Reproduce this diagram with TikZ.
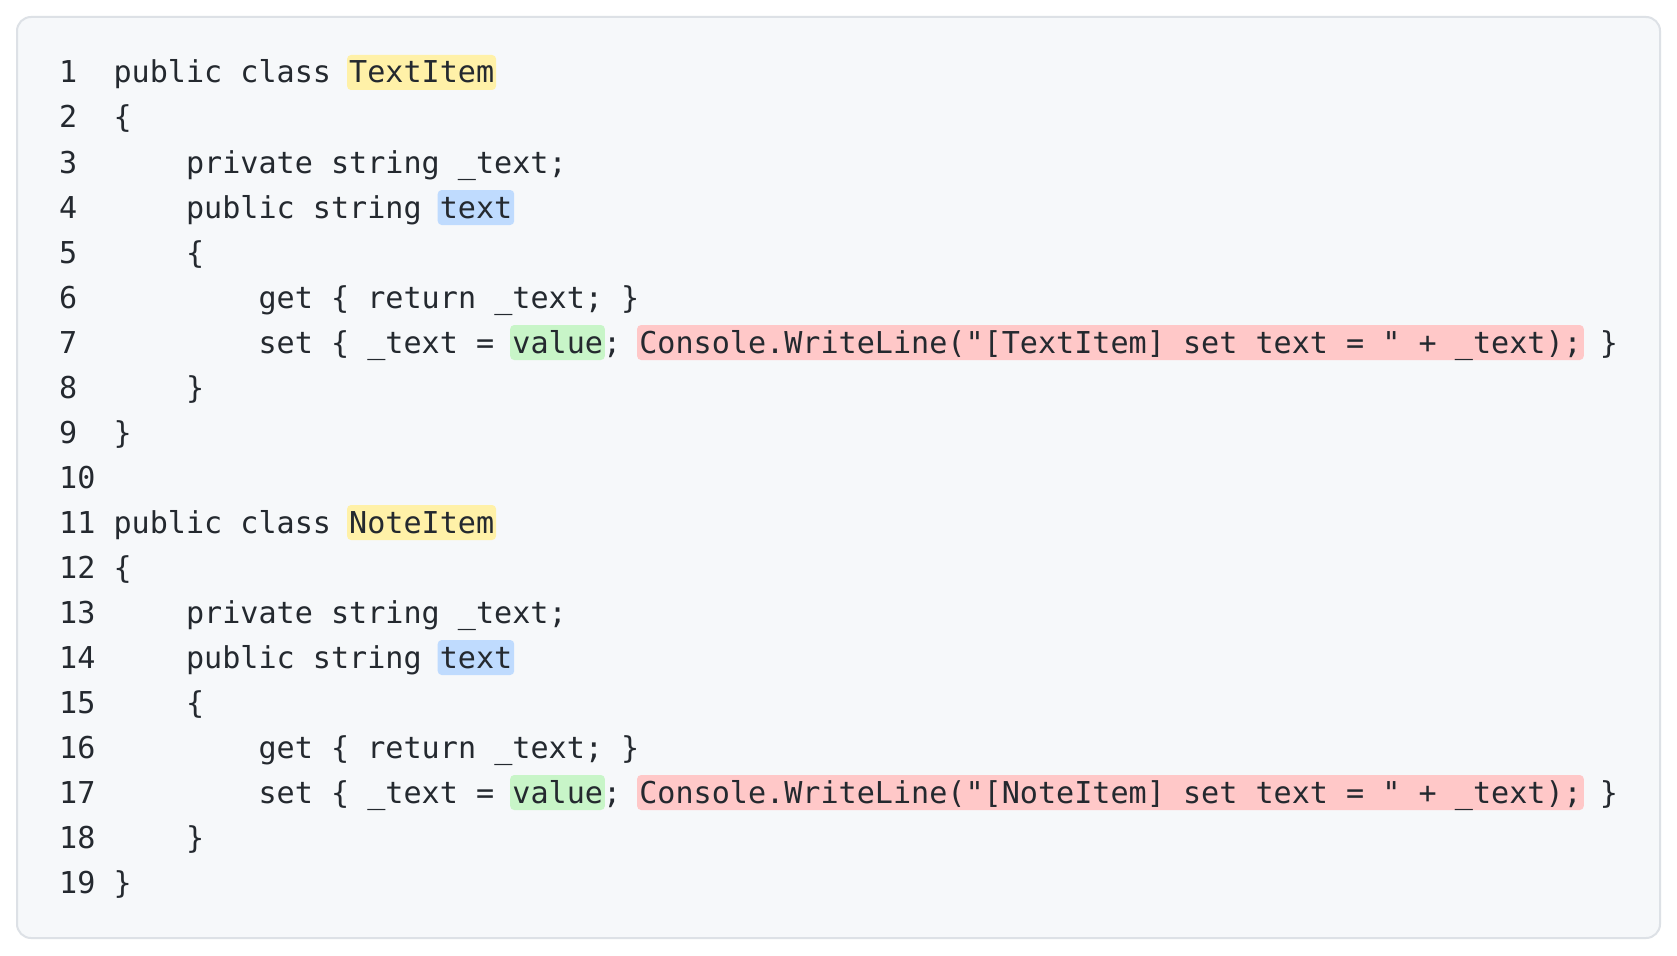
\documentclass[tikz,border=0pt]{standalone}
\usepackage{fontspec}
\setmonofont{DejaVu Sans Mono}
\definecolor{boxfill}{HTML}{F6F8FA}
\definecolor{boxline}{HTML}{DDE1E6}
\definecolor{ink}{HTML}{24292F}
\definecolor{hlyellow}{HTML}{FFF1A8}
\definecolor{hlblue}{HTML}{BFDBFE}
\definecolor{hlgreen}{HTML}{C8F5C8}
\definecolor{hlred}{HTML}{FFC8C8}
\newlength\cw
\setlength\cw{18.128pt}
\newcommand\codesize{\fontsize{30.11pt}{36pt}\ttfamily}
\newcommand\hlspan[4]{% color, line, col, len
  \pgfmathsetmacro\yb{-(83+(#2-1)*45)}%
  \fill[#1,rounded corners=4pt] ({59pt+#3*\cw-2pt},{\yb pt-7pt}) rectangle ({59pt+(#3+#4)*\cw+2pt},{\yb pt+28pt});}
\begin{document}
\begin{tikzpicture}[x=1pt,y=1pt,
  num/.style={anchor=base west,inner sep=0pt,font=\codesize,text=ink},
  code/.style={anchor=base west,inner sep=0pt,font=\codesize,text=ink}]
\useasboundingbox (0,0) rectangle (1677,-955);
\fill[white] (0,0) rectangle (1677,-955);
\draw[boxline,fill=boxfill,line width=2pt,rounded corners=14pt] (17,-17) rectangle (1660,-938);
% highlights
\hlspan{hlyellow}{1}{16}{8}
\hlspan{hlblue}{4}{21}{4}
\hlspan{hlgreen}{7}{25}{5}
\hlspan{hlred}{7}{32}{52}
\hlspan{hlyellow}{11}{16}{8}
\hlspan{hlblue}{14}{21}{4}
\hlspan{hlgreen}{17}{25}{5}
\hlspan{hlred}{17}{32}{52}
% line numbers
\foreach \i in {1,...,19}{
  \node[num] (n\i) at (59,{-(83+(\i-1)*45)}) {\i};
}
% code
\node[code] (c1)  at ({59pt+3*\cw},-83)  {public~class~TextItem};
\node[code] (c2)  at ({59pt+3*\cw},-128) {\{};
\node[code] (c3)  at ({59pt+7*\cw},-173) {private~string~\_text;};
\node[code] (c4)  at ({59pt+7*\cw},-218) {public~string~text};
\node[code] (c5)  at ({59pt+7*\cw},-263) {\{};
\node[code] (c6)  at ({59pt+11*\cw},-308) {get~\{~return~\_text;~\}};
\node[code] (c7)  at ({59pt+11*\cw},-353) {set~\{~\_text~=~value;~Console.WriteLine("[TextItem]~set~text~=~"~+~\_text);~\}};
\node[code] (c8)  at ({59pt+7*\cw},-398) {\}};
\node[code] (c9)  at ({59pt+3*\cw},-443) {\}};
\node[code] (c11) at ({59pt+3*\cw},-533) {public~class~NoteItem};
\node[code] (c12) at ({59pt+3*\cw},-578) {\{};
\node[code] (c13) at ({59pt+7*\cw},-623) {private~string~\_text;};
\node[code] (c14) at ({59pt+7*\cw},-668) {public~string~text};
\node[code] (c15) at ({59pt+7*\cw},-713) {\{};
\node[code] (c16) at ({59pt+11*\cw},-758) {get~\{~return~\_text;~\}};
\node[code] (c17) at ({59pt+11*\cw},-803) {set~\{~\_text~=~value;~Console.WriteLine("[NoteItem]~set~text~=~"~+~\_text);~\}};
\node[code] (c18) at ({59pt+7*\cw},-848) {\}};
\node[code] (c19) at ({59pt+3*\cw},-893) {\}};
\end{tikzpicture}
\end{document}
